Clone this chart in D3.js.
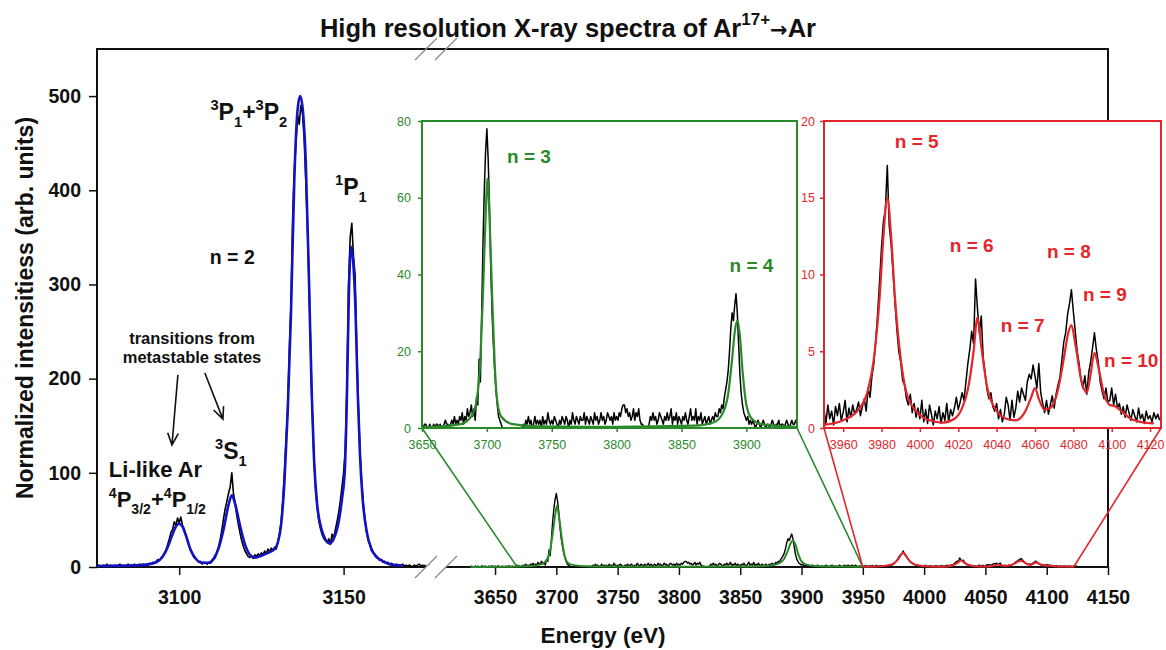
<!DOCTYPE html>
<html><head><meta charset="utf-8">
<script src="https://cdn.jsdelivr.net/npm/d3@7"></script>
<style>
body{margin:0;background:#fff}
svg text{font-family:"Liberation Sans",Arial,Helvetica,sans-serif}
</style>
</head><body>
<svg id="chart" width="1166" height="650"></svg>
<script>
// ---------------- DATA ----------------
const mainYTicks = [0, 100, 200, 300, 400, 500];
const leftXTicks = [3100, 3150];
const rightXTicks = [3650, 3700, 3750, 3800, 3850, 3900, 3950, 4000, 4050, 4100, 4150];
const greenXTicks = [3650, 3700, 3750, 3800, 3850, 3900];
const greenYTicks = [0, 20, 40, 60, 80];
const redXTicks = [3960, 3980, 4000, 4020, 4040, 4060, 4080, 4100, 4120];
const redYTicks = [0, 5, 10, 15, 20];

// n = 2 region, measured counts, 3075 eV .. 3175 eV every 0.5 eV
const leftStart = 3075, leftStep = 0.5;
const leftCounts = [
  1,2,1,0,2,1,3,1,2,1, 0,2,1,2,3,1,2,1,2,3, 1,2,2,3,1,2,3,2,3,2,
  3,2,4,3,5,4,6,8,7,10,
  12,15,18,24,30,37,40,48,44,52,
  47,53,44,40,34,28,22,17,14,10,
  9,7,5,6,3,5,4,3,5,4,
  6,8,10,16,22,30,40,52,62,70,
  78,85,100,78,68,55,45,36,28,22,
  17,14,11,10,12,9,13,11,14,12,
  15,13,17,14,19,16,20,18,21,19,
  26,35,48,70,100,135,170,230,280,370,
  420,450,480,470,490,482,455,410,360,300,
  230,160,115,80,62,48,40,34,30,28,
  26,30,24,35,30,40,48,58,70,85,
  100,125,190,300,350,365,330,310,230,170,
  120,90,68,50,38,28,24,17,15,12,
  10,9,7,8,5,6,4,5,3,4,
  3,2,3,2,1,2,3,1,2,1,2,1,0,2,1,2,3,1,2,1,2
];
// n = 2 fit (blue)
const blueFit = [
  [3075,1],[3080,1.2],[3085,1.5],[3090,2.5],[3093,5],[3095,11],[3096.5,21],[3098,35],[3099,43],
  [3100,46],[3101,43],[3102,34],[3103.5,18],[3105,9],[3107,4.5],[3109,4.5],[3110.5,9],[3112,20],
  [3113.5,40],[3115,66],[3116,76],[3117,67],[3118.5,44],[3120,24],[3121.5,13],[3123,10],[3125,12],
  [3127,15],[3129,19],[3130,26],[3131,45],[3132,90],[3133,165],[3134,270],[3135,410],[3136,485],
  [3136.8,500],[3137.6,485],[3138.5,430],[3139.5,300],[3140.3,185],[3141,115],[3142,65],[3143.3,40],
  [3144.5,29],[3145.8,25],[3147,30],[3148.5,48],[3149.5,72],[3150.4,105],[3151,180],[3151.6,290],
  [3152.3,340],[3153,320],[3153.6,275],[3154.3,185],[3155,118],[3155.8,72],[3157,38],[3158.5,19],
  [3160,11],[3162,6],[3164,3],[3166,2],[3168,1.5]
];

// n = 3, 4 region, measured counts, 3630 eV .. 3950 eV every 1 eV
const greenStart = 3630, greenStep = 1;
const greenCounts = [
  0,1,0,0,1,0,1,0,0,1,
  1,0,1,0,0,1,0,1,1,0,
  1,0,1,1,0,0,1,0,0,1,
  0,1,1,0,1,0,0,1,2,1,
  1,0,1,2,1,3,1,2,1,3,
  2,4,1,3,2,5,3,4,6,3,
  5,2,8,6,18,12,30,48,62,72,
  78,70,58,42,30,22,15,10,6,3,
  2,1,0,0,0,0,0,0,0,0,
  0,0,0,0,0,0,0,0,1,0,
  2,1,3,1,2,0,1,3,1,2,
  1,2,0,3,1,2,1,4,2,1,
  2,1,3,2,1,0,2,1,3,2,
  1,3,2,0,2,1,4,2,1,3,
  2,1,3,2,2,4,1,3,2,1,
  3,2,1,4,2,3,1,2,4,2,
  3,1,2,4,3,2,3,1,4,2,
  3,2,4,3,5,6,6,4,5,3,
  4,2,3,5,2,4,3,5,2,1,
  1,0,0,0,0,1,3,2,4,2,
  3,1,2,4,3,2,1,3,2,4,
  2,3,5,1,3,2,4,1,3,2,
  1,3,2,4,2,1,3,5,2,3,
  2,5,1,3,2,4,1,2,3,1,
  2,3,1,2,3,2,4,3,3,5,
  4,6,5,8,10,12,15,20,26,30,
  28,32,35,30,22,14,9,6,4,3,
  2,3,1,2,1,2,1,0,1,2,
  1,0,1,2,1,0,1,1,0,1,
  2,1,0,1,1,2,0,1,1,0,
  1,2,1,0,1,2,1,1,2,1,
  1,2,1,1,2,1,0,1,1,0,1
];
// n = 3, 4 fit (green)
const greenFit = [
  [3630,0],[3660,0.3],[3680,1],[3688,3],[3692,7],[3695,18],[3697,35],[3699,55],[3700.5,65],
  [3702,55],[3704,35],[3706,17],[3708,7],[3711,3],[3720,1],[3740,0.4],[3800,0.3],[3860,0.6],
  [3875,1.5],[3882,4],[3886,9],[3889,18],[3891,25],[3893,28],[3895,24],[3897,15],[3900,6],
  [3904,2.5],[3912,1],[3930,0.4],[3950,0.2]
];

// n = 5 .. 10 region, measured counts, 3950 eV .. 4125 eV every 1 eV
const redStart = 3950, redStep = 1;
const redCounts = [
  1.2,0.3,1.5,0.6,1.1,0.2,1.4,0.8,1.6,0.5,
  1.0,1.8,0.4,1.3,0.7,1.5,0.9,1.2,1.7,0.8,
  1.4,1.9,1.1,2.6,2.0,3.4,4.2,5.8,7.5,9.6,
  11.8,13.5,14.2,17.1,13.2,12.0,10.1,8.2,6.4,5.0,
  4.3,3.1,2.8,1.9,1.5,2.2,1.0,1.6,0.7,1.3,
  0.6,1.8,0.4,1.2,0.3,1.5,0.9,0.2,1.1,0.6,
  1.4,0.3,1.0,0.5,1.6,0.4,1.2,0.8,1.3,2.0,
  1.2,1.7,2.3,1.8,3.0,4.2,5.1,6.3,5.5,9.7,
  7.8,6.2,7.3,4.6,3.6,2.5,1.9,2.3,1.4,1.1,
  1.6,0.6,1.2,0.4,0.9,2.0,1.5,0.5,1.8,0.7,
  1.3,2.4,1.7,2.6,2.2,1.8,3.0,3.5,3.2,4.1,
  3.4,2.6,4.2,2.3,1.6,1.0,1.8,0.9,1.5,2.1,
  1.3,2.2,2.8,3.3,4.4,5.6,6.2,7.4,8.1,9.0,
  7.6,6.3,5.0,4.2,3.1,2.6,3.4,2.2,3.6,4.3,
  5.2,6.2,5.1,4.3,3.0,2.4,1.9,2.6,1.7,1.8,
  2.6,1.5,2.2,1.3,1.6,0.9,1.4,0.7,1.5,1.0,
  0.5,1.2,0.8,0.4,1.3,0.6,0.9,0.3,1.1,0.6,
  0.8,0.4,1.0,0.6,0.9,0.5
];
// n = 5 .. 10 fit (red)
const redFit = [
  [3950,0.2],[3960,0.5],[3968,1.2],[3973,2.5],[3976,4.5],[3979,8.5],[3981,12.5],[3983,15],
  [3985,12.5],[3987,8.5],[3990,4.5],[3993,2.3],[3998,1.1],[4005,0.5],[4012,0.35],[4018,0.6],
  [4022,1.3],[4025,2.5],[4028,5],[4030,7.2],[4032,5.3],[4035,2.7],[4039,1.3],[4045,0.6],
  [4050,0.5],[4055,1.1],[4058,2],[4060,2.6],[4062,1.9],[4065,1.2],[4068,1.3],[4072,2.5],
  [4075,4.5],[4077,6],[4079,6.7],[4081,5.5],[4084,3.2],[4087,2.3],[4089,3.5],[4091,4.9],
  [4093,4],[4096,2.2],[4099,1.5],[4102,1.4],[4105,1.1],[4110,0.6],[4115,0.4],[4122,0.3]
];

// ---------------- DRAW ----------------
const BLUE = "#1212c4", GREEN = "#2a8a2a", RED = "#e3262b", FONT = '"Liberation Sans",Arial,sans-serif';
const svg = d3.select("#chart");
const toPts = (start, step, arr) => arr.map((v, i) => [start + i * step, v]);
const leftData = toPts(leftStart, leftStep, leftCounts);
const greenData = toPts(greenStart, greenStep, greenCounts);
const redData = toPts(redStart, redStep, redCounts);
const fmt = d3.format("d");

const pTop = 49, pBottom = 567, pLeft = 97, pRight = 1108;
const xL = d3.scaleLinear().domain([3075, 3175]).range([pLeft, 425.8]);
const xR = d3.scaleLinear().domain([3610, 4150]).range([446, pRight]);
const y = d3.scaleLinear().domain([0, 550]).range([pBottom, pTop]);

const xG = d3.scaleLinear().domain([3650, 3939]).range([422, 797]);
const yG = d3.scaleLinear().domain([0, 80]).range([428, 121]);
const xRd = d3.scaleLinear().domain([3950, 4125.7]).range([824, 1161]);
const yRd = d3.scaleLinear().domain([0, 20]).range([428, 121]);

function drawSeries(g, data, xs, ys, color, w, curve) {
  g.append("path").datum(data)
    .attr("d", d3.line().x(d => xs(d[0])).y(d => ys(d[1])).curve(curve || d3.curveLinear))
    .attr("fill", "none").attr("stroke", color).attr("stroke-width", w)
    .attr("stroke-linejoin", "round");
}
function styleAxis(g, color, size, weight) {
  g.select(".domain").remove();
  g.attr("font-family", FONT).attr("font-size", size).attr("font-weight", weight);
  g.selectAll("line").attr("stroke", color).attr("stroke-width", 1.5);
  g.selectAll("text").attr("fill", color);
}

// Title
const title = svg.append("text").attr("x", 568).attr("y", 37).attr("text-anchor", "middle")
  .attr("font-size", 25.5).attr("font-weight", "bold").attr("fill", "#111");
title.append("tspan").text("High resolution X-ray spectra of Ar");
title.append("tspan").attr("font-size", 17).attr("dy", -12).text("17+");
title.append("tspan").attr("dy", 12).attr("font-family", "DejaVu Sans").attr("font-size", 21).text("\u2192");
title.append("tspan").text("Ar");

// Main frame
const frame = svg.append("g").attr("stroke", "#111").attr("stroke-width", 2).attr("fill", "none");
frame.append("path").attr("d", `M${pLeft},${pBottom}V${pTop}H${pRight}V${pBottom}`);
frame.append("line").attr("x1", pLeft).attr("x2", xL.range()[1]).attr("y1", pBottom).attr("y2", pBottom);
frame.append("line").attr("x1", xR.range()[0]).attr("x2", pRight).attr("y1", pBottom).attr("y2", pBottom);

// axis break marks
const brk = svg.append("g").attr("stroke", "#8a8a8a").attr("stroke-width", 1.2);
[[426, pBottom], [446, pBottom], [426, pTop], [446, pTop]].forEach(([cx, cy]) => {
  brk.append("line").attr("x1", cx - 11).attr("y1", cy + 11).attr("x2", cx + 11).attr("y2", cy - 11);
});

// main axes
const ax1 = svg.append("g").attr("transform", `translate(${pLeft},0)`)
  .call(d3.axisLeft(y).tickValues(mainYTicks).tickFormat(fmt).tickSize(8).tickPadding(8));
styleAxis(ax1, "#111", 19.5, "bold");
const ax2 = svg.append("g").attr("transform", `translate(0,${pBottom})`)
  .call(d3.axisBottom(xL).tickValues(leftXTicks).tickFormat(fmt).tickSize(8).tickPadding(15));
styleAxis(ax2, "#111", 19.5, "bold");
const ax3 = svg.append("g").attr("transform", `translate(0,${pBottom})`)
  .call(d3.axisBottom(xR).tickValues(rightXTicks).tickFormat(fmt).tickSize(8).tickPadding(15));
styleAxis(ax3, "#111", 19.5, "bold");

svg.append("text").attr("x", 603).attr("y", 643).attr("text-anchor", "middle")
  .attr("font-size", 22.5).attr("font-weight", "bold").attr("fill", "#111").text("Energy (eV)");
svg.append("text").attr("transform", "translate(33,308) rotate(-90)").attr("text-anchor", "middle")
  .attr("font-size", 23).attr("font-weight", "bold").attr("fill", "#111")
  .text("Normalized intensitiess (arb. units)");

// main data
const mainG = svg.append("g");
drawSeries(mainG, leftData, xL, y, "#000", 1.6);
drawSeries(mainG, blueFit, xL, y, BLUE, 2.6, d3.curveMonotoneX);
drawSeries(mainG, greenData, xR, y, "#000", 1.4);
drawSeries(mainG, redData, xR, y, "#000", 1.4);
drawSeries(mainG, greenFit, xR, y, GREEN, 2, d3.curveMonotoneX);
drawSeries(mainG, redFit, xR, y, RED, 2, d3.curveMonotoneX);

// rich text helper
function rich(g, x0, y0, parts, size, color) {
  const t = g.append("text").attr("x", x0).attr("y", y0).attr("font-size", size)
    .attr("font-weight", "bold").attr("fill", color);
  let off = 0;
  parts.forEach(p => {
    const s = t.append("tspan").text(p[0]);
    let target = 0;
    if (p[1] === "sup") { target = -size * 0.42; s.attr("font-size", size * 0.64); }
    else if (p[1] === "sub") { target = size * 0.3; s.attr("font-size", size * 0.64); }
    s.attr("dy", target - off);
    off = target;
  });
  return t;
}

// main annotations
const ann = svg.append("g");
rich(ann, xL(3109.5), y(475), [["3", "sup"], ["P"], ["1", "sub"], ["+"], ["3", "sup"], ["P"], ["2", "sub"]], 23, "#111");
rich(ann, xL(3147.4), y(395), [["1", "sup"], ["P"], ["1", "sub"]], 23, "#111");
rich(ann, xL(3109.3), y(322), [["n = 2"]], 19.5, "#111");
rich(ann, xL(3110.9), y(115), [["3", "sup"], ["S"], ["1", "sub"]], 23, "#111");
rich(ann, xL(3078.6), y(95.6), [["Li-like Ar"]], 22, "#111");
rich(ann, xL(3078.6), y(63.7), [["4", "sup"], ["P"], ["3/2", "sub"], ["+"], ["4", "sup"], ["P"], ["1/2", "sub"]], 22, "#111");
ann.append("text").attr("x", xL(3103.9)).attr("y", y(237)).attr("text-anchor", "middle")
  .attr("font-size", 16.5).attr("font-weight", "bold").attr("fill", "#111").text("transitions from");
ann.append("text").attr("x", xL(3103.9)).attr("y", y(216.5)).attr("text-anchor", "middle")
  .attr("font-size", 16.5).attr("font-weight", "bold").attr("fill", "#111").text("metastable states");
function arrow(e1, v1, e2, v2) {
  const x1 = xL(e1), y1 = y(v1), x2 = xL(e2), y2 = y(v2);
  const a = Math.atan2(y2 - y1, x2 - x1), L = 13, w = 0.42;
  ann.append("path")
    .attr("d", `M${x1},${y1}L${x2},${y2}M${x2 - L * Math.cos(a - w)},${y2 - L * Math.sin(a - w)}L${x2},${y2}L${x2 - L * Math.cos(a + w)},${y2 - L * Math.sin(a + w)}`)
    .attr("fill", "none").attr("stroke", "#111").attr("stroke-width", 1.6);
}
arrow(3099.6, 204, 3097.8, 129.5);
arrow(3107.8, 206, 3113.3, 157);

// connectors
const con = svg.append("g").attr("stroke-width", 1.6).attr("fill", "none");
con.append("line").attr("stroke", GREEN).attr("x1", xG.range()[0]).attr("y1", yG(0)).attr("x2", xR(3668)).attr("y2", pBottom);
con.append("line").attr("stroke", GREEN).attr("x1", xG.range()[1]).attr("y1", yG(0)).attr("x2", xR(3950)).attr("y2", pBottom);
con.append("line").attr("stroke", RED).attr("x1", xRd.range()[0]).attr("y1", yRd(0)).attr("x2", xR(3950)).attr("y2", pBottom);
con.append("line").attr("stroke", RED).attr("x1", xRd.range()[1]).attr("y1", yRd(0)).attr("x2", xR(4122)).attr("y2", pBottom);

// inset builder
function inset(id, xs, ys, xt, yt, color, counts, fit, labels, yPad) {
  const [x0, x1] = xs.range(), [y0, y1] = ys.range();
  const g = svg.append("g");
  g.append("rect").attr("x", x0).attr("y", y1).attr("width", x1 - x0).attr("height", y0 - y1)
    .attr("fill", "#fff");
  svg.append("clipPath").attr("id", id).append("rect")
    .attr("x", x0).attr("y", y1).attr("width", x1 - x0).attr("height", y0 - y1);
  const d = g.append("g").attr("clip-path", `url(#${id})`);
  drawSeries(d, counts, xs, ys, "#000", 1.5);
  drawSeries(d, fit, xs, ys, color, 2.2, d3.curveMonotoneX);
  g.append("rect").attr("x", x0).attr("y", y1).attr("width", x1 - x0).attr("height", y0 - y1)
    .attr("fill", "none").attr("stroke", color).attr("stroke-width", 2);
  const ay = g.append("g").attr("transform", `translate(${x0},0)`)
    .call(d3.axisLeft(ys).tickValues(yt).tickFormat(fmt).tickSize(4).tickPadding(yPad));
  styleAxis(ay, color, 12.5, "normal");
  const ax = g.append("g").attr("transform", `translate(0,${y0})`)
    .call(d3.axisBottom(xs).tickValues(xt).tickFormat(fmt).tickSize(4).tickPadding(8));
  styleAxis(ax, color, 12.5, "normal");
  labels.forEach(l => rich(g, xs(l[1]), ys(l[2]), [[l[0]]], 19, color));
}
inset("clipG", xG, yG, greenXTicks, greenYTicks, GREEN, greenData, greenFit,
  [["n = 3", 3715.6, 69], ["n = 4", 3887, 40.6]], 7);
inset("clipR", xRd, yRd, redXTicks, redYTicks, RED, redData, redFit,
  [["n = 5", 3986.9, 18.24], ["n = 6", 4015.6, 11.47], ["n = 7", 4042.2, 6.25],
   ["n = 8", 4066.2, 11.07], ["n = 9", 4085, 8.27], ["n = 10", 4096, 3.97]], 5);
</script>
</body></html>
